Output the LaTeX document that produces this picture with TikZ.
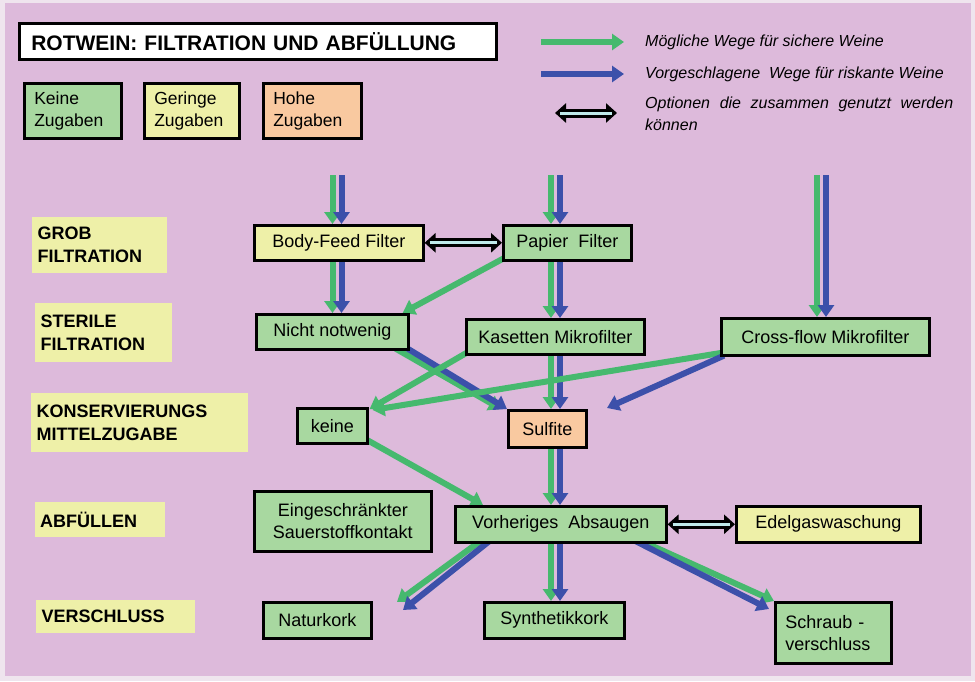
\documentclass[tikz,border=0pt]{standalone}
\usepackage{fontspec}
\setmainfont{Liberation Sans}
\usetikzlibrary{arrows.meta,calc}
\definecolor{bgp}{HTML}{DDBADB}
\definecolor{bgl}{HTML}{EFE5EE}
\definecolor{gfill}{HTML}{A8D8A0}
\definecolor{yfill}{HTML}{EEF0A8}
\definecolor{ofill}{HTML}{F9C9A0}
\definecolor{ag}{HTML}{46B96E}
\definecolor{ab}{HTML}{3C50AA}
\definecolor{dfill}{HTML}{BFEAEA}
\pgfdeclarelayer{bgl}
\pgfdeclarelayer{arr}
\pgfsetlayers{bgl,arr,main}
\tikzset{
  box/.style={draw=black, line width=2.6pt, inner sep=0pt, anchor=north west,
    align=center, font=\fontsize{18}{22}\selectfont},
  lbox/.style={draw=black, line width=2.6pt, inner sep=0pt, anchor=north west,
    align=left, font=\fontsize{17.5}{22}\selectfont},
  stage/.style={fill=yfill, inner sep=0pt, anchor=north west, align=left,
    font=\bfseries\fontsize{18}{23}\selectfont},
  legtxt/.style={anchor=west, inner sep=0pt, font=\itshape\fontsize{16}{19}\selectfont},
  garr/.style={draw=ag, line width=6pt, -{Triangle[width=16pt,length=12pt]}},
  barr/.style={draw=ab, line width=6pt, -{Triangle[width=16pt,length=12pt]}},
  dblo/.style={draw=black, line width=9pt,
    {Triangle[width=19pt,length=11pt]}-{Triangle[width=19pt,length=11pt]}},
  dbli/.style={draw=dfill, line width=3pt, shorten <=5pt, shorten >=5pt}
}
\begin{document}
\begin{tikzpicture}[x=1pt,y=-1pt]
\useasboundingbox (0,0) rectangle (975,681);
\begin{pgfonlayer}{bgl}
\fill[bgl] (0,0) rectangle (975,681);
\fill[bgp] (5,3) rectangle (971,676);
\end{pgfonlayer}

% title and legend
\node[box, fill=white, minimum width=477pt, minimum height=36pt, text width=453pt,
  align=left, font=\bfseries\fontsize{21}{24}\selectfont] (ttl) at (18,22)
  {ROTWEIN: FILTRATION UND ABFÜLLUNG};
\node[lbox, fill=gfill, minimum width=97pt, minimum height=55pt, text width=77pt] (k1) at (23,82) {Keine\\Zugaben};
\node[lbox, fill=yfill, minimum width=95pt, minimum height=55pt, text width=75pt] (k2) at (143,82) {Geringe\\Zugaben};
\node[lbox, fill=ofill, minimum width=98pt, minimum height=55pt, text width=78pt] (k3) at (262,82) {Hohe\\Zugaben};

\coordinate (lg1) at (541,42);  \coordinate (lg1e) at (624,42);
\coordinate (lg2) at (541,74);  \coordinate (lg2e) at (624,74);
\coordinate (lg3) at (555,113); \coordinate (lg3e) at (617,113);
\node[legtxt] (t1) at (645,42) {Mögliche Wege für sichere Weine};
\node[legtxt] (t2) at (645,74) {Vorgeschlagene\ \ Wege für riskante Weine};
\node[legtxt] (t3) at (645,104) {\makebox[308pt][s]{Optionen die zusammen genutzt werden}};
\node[legtxt] (t4) at (645,125) {können};

% stage labels
\node[stage, minimum width=135pt, minimum height=56pt, text width=124pt] (L1) at (32,217) {GROB\\FILTRATION};
\node[stage, minimum width=137pt, minimum height=59pt, text width=126pt] (L2) at (35,303) {STERILE\\FILTRATION};
\node[stage, minimum width=217pt, minimum height=59pt, text width=206pt] (L3) at (31,393) {KONSERVIERUNGS\\MITTELZUGABE};
\node[stage, minimum width=130pt, minimum height=35pt, text width=120pt] (L4) at (35,502) {ABFÜLLEN};
\node[stage, minimum width=159pt, minimum height=33pt, text width=148pt] (L5) at (36,600) {VERSCHLUSS};

% process boxes
\node[box, fill=yfill, minimum width=169pt, minimum height=35pt] (bf) at (253,224) {Body-Feed Filter};
\node[box, fill=gfill, minimum width=128pt, minimum height=35pt] (pf) at (502,224) {Papier\ \ Filter};
\node[box, fill=gfill, minimum width=152pt, minimum height=35pt] (nn) at (255,313) {Nicht notwenig};
\node[box, fill=gfill, minimum width=178pt, minimum height=35pt] (km) at (465,318) {Kasetten Mikrofilter};
\node[box, fill=gfill, minimum width=208pt, minimum height=37pt] (cf) at (720,317) {Cross-flow Mikrofilter};
\node[box, fill=gfill, minimum width=70pt, minimum height=35pt] (kn) at (296,407) {keine};
\node[box, fill=ofill, minimum width=78pt, minimum height=37pt] (sf) at (507,409) {Sulfite};
\node[box, fill=gfill, minimum width=177pt, minimum height=60pt] (es) at (253,490) {Eingeschränkter\\Sauerstoffkontakt};
\node[box, fill=gfill, minimum width=211pt, minimum height=36pt] (va) at (454,505) {Vorheriges\ \ Absaugen};
\node[box, fill=yfill, minimum width=184pt, minimum height=36pt] (eg) at (735,505) {Edelgaswaschung};
\node[box, fill=gfill, minimum width=108pt, minimum height=36pt] (nk) at (262,601) {Naturkork};
\node[box, fill=gfill, minimum width=140pt, minimum height=36pt] (sk) at (483,601) {Synthetikkork};
\node[box, fill=gfill, minimum width=116pt, minimum height=61pt, text width=96pt, align=left] (sv) at (774,601) {Schraub -\\verschluss};

\coordinate (tA) at (337,175);
\coordinate (tB) at (555.5,175);
\coordinate (tC) at (821.5,175);
\coordinate (sfT) at (607,408);
\coordinate (nkG) at (397,602);
\coordinate (nkB) at (403,610);

\begin{pgfonlayer}{arr}
% legend arrows
\draw[garr] (lg1) -- (lg1e);
\draw[barr] (lg2) -- (lg2e);
\draw[dblo] (lg3) -- (lg3e);
\draw[dbli] (lg3) -- (lg3e);
% incoming
\draw[garr] ($(tA)+(-4.5,0)$) -- ($(tA|-bf.north)+(-4.5,0)$);
\draw[barr] ($(tA)+(4.5,0)$) -- ($(tA|-bf.north)+(4.5,0)$);
\draw[garr] ($(tB)+(-4.5,0)$) -- ($(tB|-pf.north)+(-4.5,0)$);
\draw[barr] ($(tB)+(4.5,0)$) -- ($(tB|-pf.north)+(4.5,0)$);
\draw[garr] ($(tC)+(-4.5,0)$) -- ($(tC|-cf.north)+(-4.5,0)$);
\draw[barr] ($(tC)+(4.5,0)$) -- ($(tC|-cf.north)+(4.5,0)$);
% vertical pairs
\draw[garr] ($(tA|-bf.south)+(-4.5,0)$) -- ($(tA|-nn.north)+(-4.5,0)$);
\draw[barr] ($(tA|-bf.south)+(4.5,0)$) -- ($(tA|-nn.north)+(4.5,0)$);
\draw[garr] ($(tB|-pf.south)+(-4.5,0)$) -- ($(tB|-km.north)+(-4.5,0)$);
\draw[barr] ($(tB|-pf.south)+(4.5,0)$) -- ($(tB|-km.north)+(4.5,0)$);
\draw[garr] ($(tB|-km.south)+(-4.5,0)$) -- ($(tB|-sf.north)+(-4.5,0)$);
\draw[barr] ($(tB|-km.south)+(4.5,0)$) -- ($(tB|-sf.north)+(4.5,0)$);
\draw[garr] ($(tB|-sf.south)+(-4.5,0)$) -- ($(tB|-va.north)+(-4.5,0)$);
\draw[barr] ($(tB|-sf.south)+(4.5,0)$) -- ($(tB|-va.north)+(4.5,0)$);
\draw[garr] ($(tB|-va.south)+(-4.5,0)$) -- ($(tB|-sk.north)+(-4.5,0)$);
\draw[barr] ($(tB|-va.south)+(4.5,0)$) -- ($(tB|-sk.north)+(4.5,0)$);
% diagonals
\draw[garr] ($(pf.south west)+(3,-4)$) -- ($(nn.north east)+(-7,0)$);
\draw[garr] ($(nn.south east)+(-14,-2)$) -- ($(sf.north west)+(-6,0)$);
\draw[barr] ($(nn.south east)+(-2,-2)$) -- (sf.north west);
\draw[garr] ($(km.south west)+(2,-3)$) -- ($(kn.north east)+(1,2)$);
\draw[garr] ($(cf.south west)+(3,-4)$) -- ($(kn.north east)+(4,3)$);
\draw[barr] ($(cf.south west)+(4,-1)$) -- (sfT);
\draw[garr] ($(kn.south east)+(-4,-6)$) -- ($(va.north west)+(29,0)$);
\draw[garr] ($(va.south west)+(27,-3)$) -- (nkG);
\draw[barr] ($(va.south west)+(36,-3)$) -- (nkB);
\draw[garr] ($(va.south east)+(-27,-3)$) -- (sv.north west);
\draw[barr] ($(va.south east)+(-33,-3)$) -- ($(sv.north west)+(-5,8)$);
% options
\draw[dblo] (bf.east) -- (pf.west);
\draw[dbli] (bf.east) -- (pf.west);
\draw[dblo] (va.east) -- (eg.west);
\draw[dbli] (va.east) -- (eg.west);
\end{pgfonlayer}
\end{tikzpicture}
\end{document}
